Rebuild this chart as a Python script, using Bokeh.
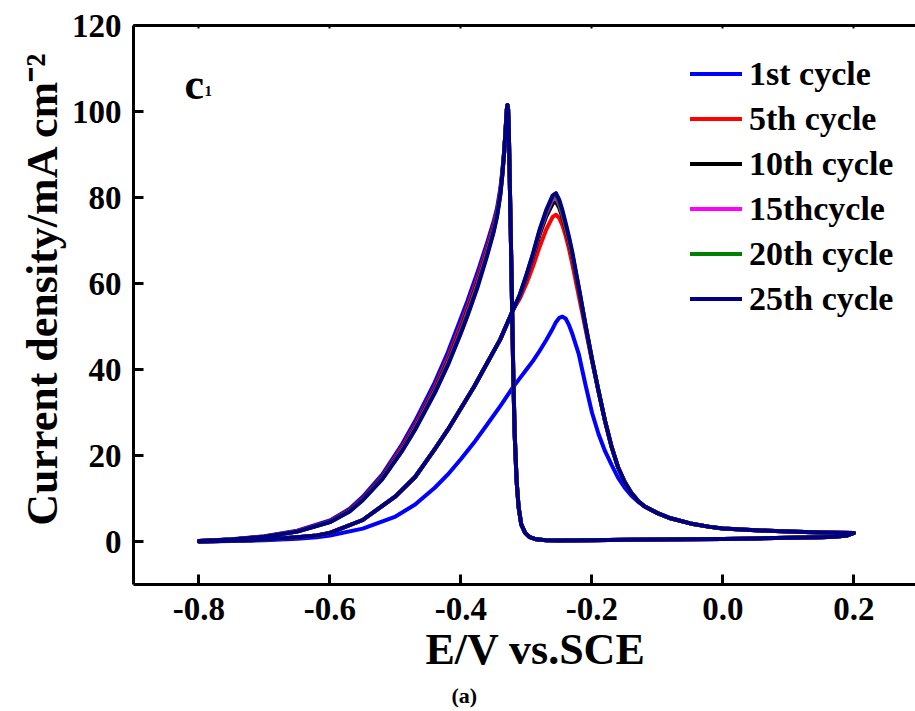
from bokeh.plotting import figure
from bokeh.models import Range1d, LinearAxis, FixedTicker, Legend, LegendItem, Label, Title
from bokeh.embed import file_html
from bokeh.resources import INLINE

# ---------------- data ----------------
x_ticks = [-0.8, -0.6, -0.4, -0.2, 0.0, 0.2]
x_tick_labels = ["-0.8", "-0.6", "-0.4", "-0.2", "0.0", "0.2"]
y_ticks = [0, 20, 40, 60, 80, 100, 120]

cycle_names = ["1st cycle", "5th cycle", "10th cycle", "15thcycle", "20th cycle", "25th cycle"]
cycle_colors = ["#0000ff", "#ff0000", "#000000", "#ff00ff", "#008000", "#000080"]

# forward scan potentials, split in three segments (V vs SCE)
e_fwd_head = [-0.80, -0.75, -0.70, -0.65, -0.62, -0.60, -0.55, -0.50, -0.47, -0.44,
              -0.42, -0.40, -0.38, -0.36, -0.34, -0.32]
e_fwd_mid = [-0.31, -0.30, -0.29, -0.28, -0.27, -0.26, -0.255, -0.25, -0.245, -0.24,
             -0.235, -0.23, -0.22, -0.21, -0.20]
e_fwd_tail = [-0.19, -0.18, -0.17, -0.16, -0.15, -0.14, -0.13, -0.12, -0.10, -0.08,
              -0.05, -0.02, 0.00, 0.05, 0.10, 0.15, 0.20]

# reverse scan potentials
e_rev_head = [0.20, 0.19, 0.17, 0.15, 0.10, 0.05, 0.00, -0.05, -0.10, -0.15,
              -0.20, -0.25, -0.27, -0.285, -0.295, -0.302, -0.308, -0.312, -0.315, -0.318,
              -0.320, -0.322, -0.324, -0.326, -0.327, -0.328, -0.329, -0.330, -0.332]
e_rev_tail = [-0.334, -0.337, -0.340, -0.345, -0.35, -0.36, -0.375, -0.39, -0.40, -0.42,
              -0.44, -0.47, -0.49, -0.52, -0.55, -0.57, -0.60, -0.65, -0.70, -0.75, -0.80]

# current densities (mA cm^-2)
# 1st cycle forward
c1_fwd_head = [0.0, 0.1, 0.3, 0.65, 1.0, 1.4, 3.0, 5.8, 8.6, 12.5,
               15.6, 19.2, 23.0, 27.2, 31.5, 36.0]
c1_fwd_mid = [38.0, 40.0, 42.0, 44.3, 46.8, 49.5, 51.0, 52.0, 52.3, 51.8,
              50.3, 48.3, 43.5, 36.5, 30.0]
c1_fwd_tail = [25.0, 21.0, 17.8, 14.8, 12.5, 10.7, 9.3, 8.2, 6.6, 5.4,
               4.2, 3.4, 3.0, 2.6, 2.3, 2.1, 2.0]

# cycles 5-25 forward: shared head and tail, own peak segment
cn_fwd_head = [0.0, 0.15, 0.45, 1.0, 1.4, 2.0, 5.0, 10.5, 15.0, 21.5,
               26.0, 31.0, 36.0, 41.5, 47.0, 54.0]
cn_fwd_tail = [35.0, 28.0, 22.0, 17.2, 13.8, 11.3, 9.5, 8.2, 6.6, 5.4,
               4.2, 3.4, 3.0, 2.6, 2.3, 2.1, 2.0]
c5_fwd_mid = [56.5, 60.0, 64.0, 68.5, 72.5, 75.5, 76.0, 75.2, 73.5, 71.0, 68.0, 64.5, 57.0, 49.5, 42.0]
c10_fwd_mid = [57.2, 61.5, 66.2, 71.3, 75.5, 78.6, 79.0, 77.6, 75.3, 72.5, 69.6, 66.3, 58.5, 50.2, 42.3]
c15_fwd_mid = [57.3, 61.8, 66.6, 72.0, 76.3, 79.6, 80.0, 78.4, 76.0, 73.0, 70.0, 66.6, 58.8, 50.4, 42.4]
c20_fwd_mid = [57.4, 62.0, 66.8, 72.3, 76.7, 80.1, 80.6, 78.8, 76.3, 73.3, 70.3, 66.8, 58.9, 50.5, 42.5]
c25_fwd_mid = [57.5, 62.0, 67.0, 72.5, 77.0, 80.5, 81.0, 79.5, 77.0, 74.0, 70.8, 67.3, 59.0, 50.5, 42.5]

# reverse scan: shared low branch and sharp peak, own decay on the left
all_rev_head = [2.0, 1.4, 1.1, 1.0, 0.85, 0.7, 0.6, 0.5, 0.45, 0.4,
                0.3, 0.25, 0.3, 0.5, 1.0, 2.0, 4.0, 8.0, 14.0, 25.0,
                38.0, 55.0, 72.0, 88.0, 96.0, 100.5, 101.5, 100.5, 95.5]
c1_rev_tail = [91.0, 86.0, 82.0, 77.5, 74.5, 69.5, 62.5, 56.0, 52.0, 44.0,
               37.0, 28.0, 22.6, 15.6, 10.4, 7.6, 4.9, 2.5, 1.2, 0.5, 0.1]
c5_rev_tail = [90.8, 85.5, 81.4, 76.8, 73.6, 68.4, 61.1, 54.6, 50.5, 42.7,
               35.9, 27.1, 21.9, 15.1, 10.0, 7.3, 4.7, 2.4, 1.15, 0.47, 0.1]
c10_rev_tail = [90.6, 85.3, 81.0, 76.3, 73.0, 67.7, 60.3, 53.8, 49.7, 42.0,
                35.4, 26.7, 21.5, 14.9, 9.8, 7.2, 4.6, 2.35, 1.12, 0.46, 0.1]
c15_rev_tail = [90.5, 85.1, 80.8, 76.0, 72.6, 67.3, 59.8, 53.3, 49.2, 41.6,
                35.0, 26.4, 21.3, 14.7, 9.7, 7.1, 4.55, 2.33, 1.11, 0.45, 0.1]
c20_rev_tail = [90.5, 85.0, 80.6, 75.7, 72.3, 66.9, 59.4, 52.9, 48.8, 41.3,
                34.7, 26.2, 21.1, 14.6, 9.65, 7.05, 4.52, 2.31, 1.1, 0.45, 0.1]
c25_rev_tail = [90.5, 85.0, 80.5, 75.5, 72.0, 66.5, 59.0, 52.5, 48.5, 41.0,
                34.5, 26.0, 21.0, 14.5, 9.6, 7.0, 4.5, 2.3, 1.1, 0.45, 0.1]

# ---------------- assemble the closed CV loops ----------------
e_loop = e_fwd_head + e_fwd_mid + e_fwd_tail + e_rev_head + e_rev_tail
loops = [
    c1_fwd_head + c1_fwd_mid + c1_fwd_tail + all_rev_head + c1_rev_tail,
    cn_fwd_head + c5_fwd_mid + cn_fwd_tail + all_rev_head + c5_rev_tail,
    cn_fwd_head + c10_fwd_mid + cn_fwd_tail + all_rev_head + c10_rev_tail,
    cn_fwd_head + c15_fwd_mid + cn_fwd_tail + all_rev_head + c15_rev_tail,
    cn_fwd_head + c20_fwd_mid + cn_fwd_tail + all_rev_head + c20_rev_tail,
    cn_fwd_head + c25_fwd_mid + cn_fwd_tail + all_rev_head + c25_rev_tail,
]

SERIF = "Liberation Serif"
NB = "\u00a0"

p = figure(width=915, height=711, output_backend="svg", toolbar_location=None,
           x_range=Range1d(-0.9, 0.294), y_range=Range1d(-10, 120),
           min_border_left=133, min_border_right=0, min_border_top=25, min_border_bottom=127)
p.outline_line_color = None
p.grid.visible = False
p.background_fill_color = "white"
p.border_fill_color = "white"

renderers = []
for cur, col in zip(loops, cycle_colors):
    r = p.line(e_loop, cur, line_width=4, line_color=col, line_join="round", line_cap="round")
    renderers.append(r)

# axes styling
xa = p.xaxis[0]
xa.ticker = FixedTicker(ticks=x_ticks)
xa.major_label_overrides = dict(zip(x_ticks, x_tick_labels))
xa.axis_label = NB * 2 + "E/V vs.SCE"
ya = p.yaxis[0]
ya.ticker = FixedTicker(ticks=y_ticks)
ya.axis_label = NB * 3 + "Current density/mA cm\u207b\u00b2"
for ax in (xa, ya):
    ax.axis_line_width = 3
    ax.axis_line_color = "black"
    ax.major_tick_in = 10
    ax.major_tick_out = 0
    ax.major_tick_line_width = 3
    ax.major_tick_line_color = "black"
    ax.minor_tick_line_color = None
    ax.major_label_text_font = SERIF
    ax.major_label_text_font_style = "bold"
    ax.major_label_text_font_size = "33px"
    ax.major_label_text_color = "black"
    ax.axis_label_text_font = SERIF
    ax.axis_label_text_font_style = "bold"
    ax.axis_label_text_font_size = "44px"
    ax.axis_label_text_color = "black"
xa.major_label_standoff = 13
xa.axis_label_standoff = 2
ya.major_label_standoff = 12
ya.axis_label_standoff = 2

# top frame line with small inward ticks (no labels)
top = LinearAxis(ticker=FixedTicker(ticks=[], minor_ticks=x_ticks),
                 axis_line_width=3, axis_line_color="black",
                 major_tick_line_color=None, minor_tick_in=3, minor_tick_out=0,
                 minor_tick_line_width=2, minor_tick_line_color="black")
p.add_layout(top, "above")

legend = Legend(items=[LegendItem(label=n, renderers=[r]) for n, r in zip(cycle_names, renderers)],
                location=(557, 263), orientation="vertical",
                glyph_width=52, glyph_height=45, label_height=45, spacing=0,
                padding=0, margin=0, label_standoff=7,
                border_line_color=None, background_fill_alpha=0,
                label_text_font=SERIF, label_text_font_style="bold",
                label_text_font_size="34px", label_text_color="black")
p.add_layout(legend)

p.add_layout(Label(x=51, y=500, x_units="screen", y_units="screen", text="c",
                   text_font=SERIF, text_font_style="bold", text_font_size="44px",
                   text_baseline="alphabetic", text_align="left", text_color="black"))
p.add_layout(Label(x=71, y=494, x_units="screen", y_units="screen", text="1",
                   text_font=SERIF, text_font_style="bold", text_font_size="15px",
                   text_baseline="alphabetic", text_align="left", text_color="black"))

caption = Title(text="(a)", align="left", offset=318, standoff=8,
                text_font=SERIF, text_font_style="bold", text_font_size="22px",
                text_color="black")
p.add_layout(caption, "below")

open("out.html", "w").write(file_html(p, INLINE))
